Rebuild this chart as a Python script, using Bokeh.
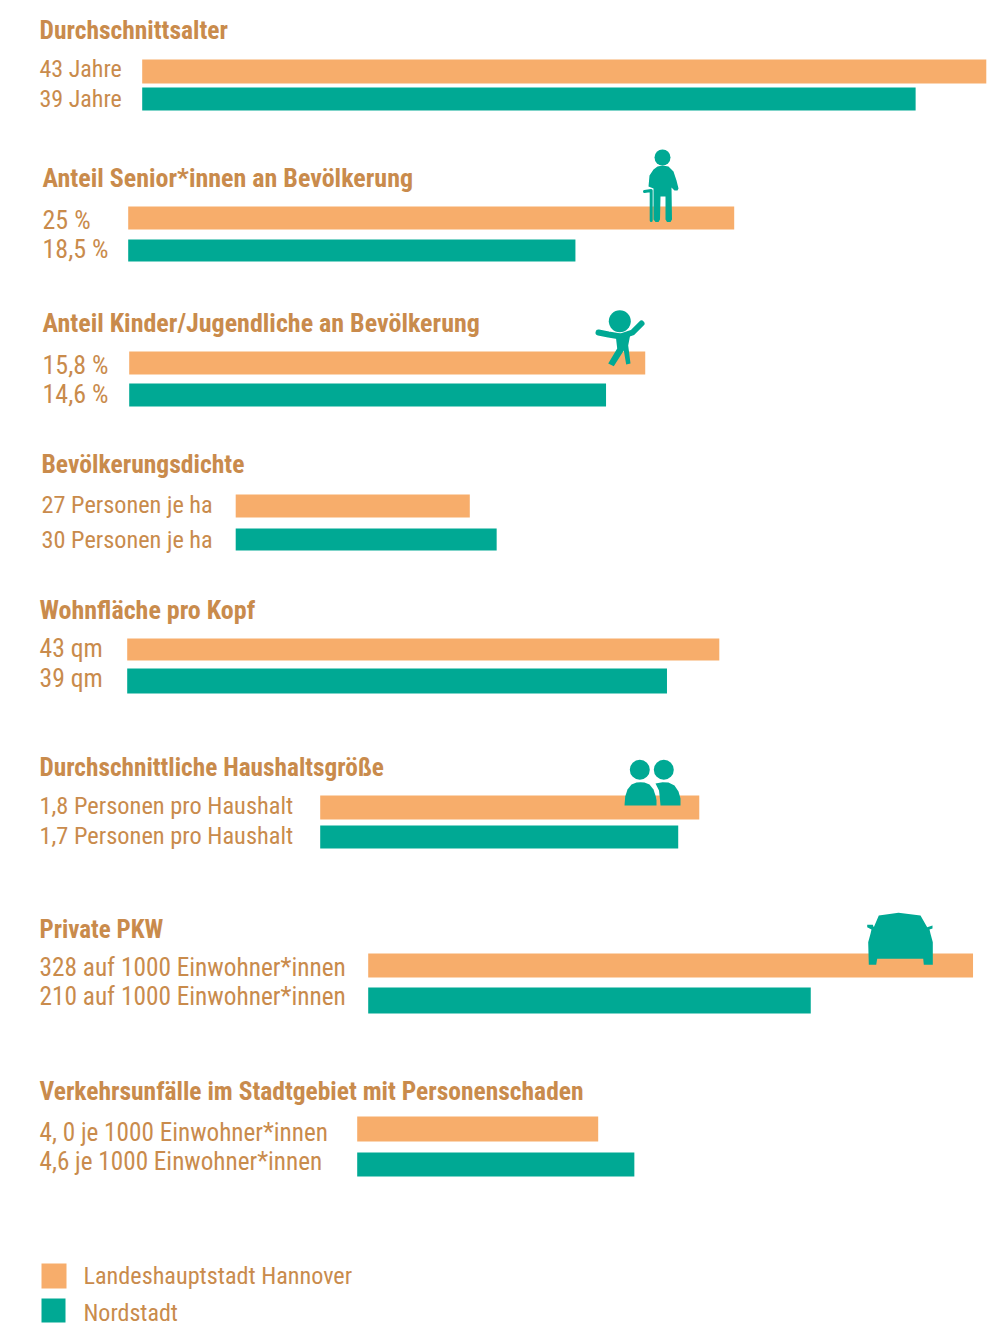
from bokeh.plotting import figure
from bokeh.models import Range1d
from bokeh.core.properties import value
from bokeh.embed import file_html
from bokeh.resources import INLINE

# ---- data ----
titles = ["Durchschnittsalter", "Anteil Senior*innen an Bevölkerung",
          "Anteil Kinder/Jugendliche an Bevölkerung", "Bevölkerungsdichte",
          "Wohnfläche pro Kopf", "Durchschnittliche Haushaltsgröße",
          "Private PKW", "Verkehrsunfälle im Stadtgebiet mit Personenschaden"]
labels_hannover = ["43 Jahre", "25 %", "15,8 %", "27 Personen je ha", "43 qm",
                   "1,8 Personen pro Haushalt", "328 auf 1000 Einwohner*innen",
                   "4, 0 je 1000 Einwohner*innen"]
labels_nordstadt = ["39 Jahre", "18,5 %", "14,6 %", "30 Personen je ha", "39 qm",
                    "1,7 Personen pro Haushalt", "210 auf 1000 Einwohner*innen",
                    "4,6 je 1000 Einwohner*innen"]
hannover = [43, 25, 15.8, 27, 43, 1.8, 328, 4.0]
nordstadt = [39.4, 18.45, 14.6, 30.1, 39.2, 1.7, 240, 4.6]
legend_names = ["Landeshauptstadt Hannover", "Nordstadt"]

# ---- layout (pixels of the page) ----
W, H = 987, 1325
ORANGE, TEAL, TXT = "#F7AD6B", "#00A994", "#C98B4C"
FONT = value("Roboto Condensed")
origin = [141.7, 127.7, 128.7, 235.2, 126.7, 319.7, 367.7, 356.7]
px_per_unit = [19.63, 24.24, 32.66, 8.67, 13.77, 210.6, 1.844, 60.25]
top_h = [59, 206, 351, 494, 638, 795, 953, 1116]
bot_h = [83, 229, 374, 517, 660, 819, 977, 1141]
top_n = [87, 239, 383, 528, 668, 825, 987, 1152]
bot_n = [110, 261, 406, 550, 693, 848, 1013, 1176]
text_x = [39, 42, 42, 41, 39, 39, 39, 39]
base_t = [38, 186, 331, 472, 618, 775, 937, 1099]
base_h = [76, 228, 373, 512, 656, 813, 975, 1140]
base_n = [106, 257, 402, 547, 686, 843, 1004, 1169]
size_t = [25.5, 26, 26, 25.6, 26, 25.3, 25, 25.5]
size_l = [24, 26, 26, 24.3, 25.6, 24.4, 25.3, 25.2]
SHIFT = 0.33


def label(x, base, text, size, style="normal"):
    p.text([x], [base - SHIFT * size], text=[text], text_font=FONT, text_font_style=style,
           text_font_size=f"{size}px", text_color=TXT, text_baseline="alphabetic")


p = figure(width=W, height=H, output_backend="svg", toolbar_location=None,
           x_range=Range1d(0, W), y_range=Range1d(H, 0), min_border=0,
           outline_line_color=None, background_fill_color="white", border_fill_color="white")
p.xaxis.visible = False
p.yaxis.visible = False
p.grid.visible = False

for i in range(len(titles)):
    k = px_per_unit[i]
    name = f"g{i}"
    p.extra_x_ranges[name] = Range1d((0 - origin[i]) / k, (W - origin[i]) / k)
    p.hbar(y=[(top_h[i] + bot_h[i]) / 2], height=bot_h[i] - top_h[i], left=[0],
           right=[hannover[i]], color=ORANGE, line_color=None, x_range_name=name)
    p.hbar(y=[(top_n[i] + bot_n[i]) / 2], height=bot_n[i] - top_n[i], left=[0],
           right=[nordstadt[i]], color=TEAL, line_color=None, x_range_name=name)
    label(text_x[i], base_t[i], titles[i], size_t[i], "bold")
    label(text_x[i], base_h[i], labels_hannover[i], size_l[i])
    label(text_x[i], base_n[i], labels_nordstadt[i], size_l[i])

# legend
p.quad(left=[41, 41], right=[66, 65], top=[1263, 1298], bottom=[1288, 1322],
       color=[ORANGE, TEAL], line_color=None)
label(83, 1283, legend_names[0], 24.2)
label(83, 1320, legend_names[1], 24)

# senior icon
p.circle([662], [157], radius=8, color=TEAL, line_color=None)
p.patch([662, 668, 673, 676, 678, 677, 674, 671, 671.5, 670, 666.5, 665, 665, 660, 659.5, 658, 655, 653, 653, 648, 649, 653, 657],
        [165, 166, 171, 180, 188, 190, 190, 187, 219, 221.5, 221.5, 219, 196, 196, 219, 221.5, 221.5, 219, 188, 186, 175, 169, 166],
        color=TEAL, line_color=None)
p.line([650.7, 650.7, 644], [220, 190, 191], line_color=TEAL, line_width=3, line_cap="round", line_join="round")

# child icon
p.circle([619.3], [320.7], radius=11, color=TEAL, line_color=None)
p.line([598, 608, 620, 632, 641], [332, 334, 336, 332, 323], line_color=TEAL, line_width=6, line_cap="round", line_join="round")
p.patch([615, 630, 627.7, 630, 625.7, 623.3, 613.3, 607.7, 616.7],
        [333.3, 333, 345, 363, 364, 350, 365.7, 363, 348], color=TEAL, line_color=None)

# two persons icon
p.circle([639.3, 663.3], [769.3, 769.3], radius=10, color=TEAL, line_color=None)
p.patch([624, 624.7, 627, 631, 636, 640, 644, 649, 653, 655.3, 656, 656],
        [805, 796, 789, 784, 782, 781.7, 782, 784, 789, 796, 800, 805], color=TEAL, line_color=None)
p.patch([655, 662, 668, 674, 678, 680, 680, 660, 659.3, 658.5],
        [783, 781.7, 782, 785, 791, 798, 805, 805, 797, 790], color=TEAL, line_color=None)

# car icon
p.patch([878.3, 898, 920, 926.7, 932, 932, 929, 930, 932.3, 932.3, 923.3, 922.7, 876.7, 875.7, 868.3, 867.7, 870, 871, 866.7, 866.7, 872.3, 873.3],
        [915, 912.3, 915, 926.7, 925, 928, 929, 933.3, 941.7, 964.3, 964.3, 958.3, 958.3, 964.3, 964.3, 941.7, 933.3, 929, 926.7, 924.3, 924.3, 926.7],
        color=TEAL, line_color=None)

open("out.html", "w").write(file_html(p, INLINE))
